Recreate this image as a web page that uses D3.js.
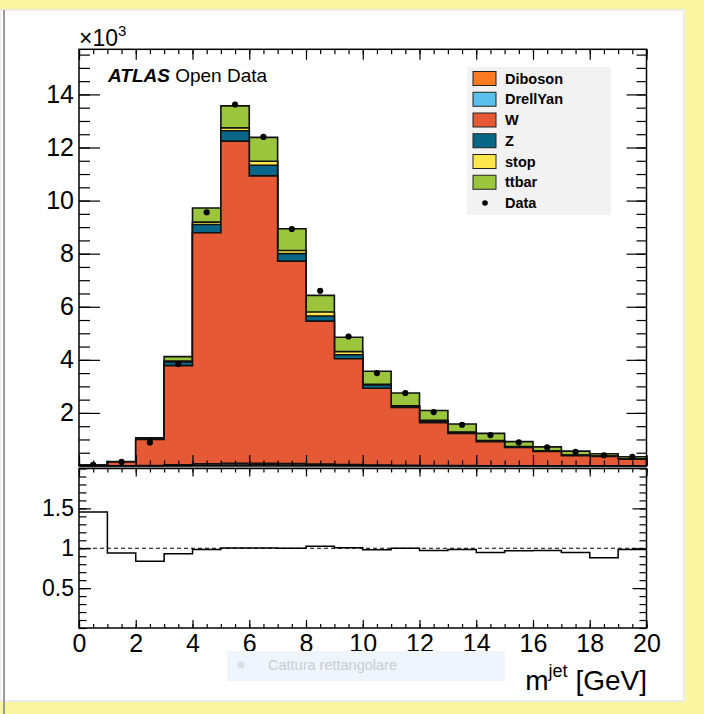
<!DOCTYPE html>
<html>
<head>
<meta charset="utf-8">
<script src="https://cdn.jsdelivr.net/npm/d3@7"></script>
<style>
  html, body { margin: 0; padding: 0; background: #faf6a0; }
  svg { display: block; }
  text { font-family: "Liberation Sans", Arial, Helvetica, sans-serif; }
</style>
</head>
<body>
<svg id="chart" width="704" height="714"></svg>
<script>
// bins of m_jet, 1 GeV wide, 0..20
const binLow = [0, 1, 2, 3, 4, 5, 6, 7, 8, 9, 10, 11, 12, 13, 14, 15, 16, 17, 18, 19];
const binWidth = 1;

// MC samples, stacked bottom -> top (same order as legend)
const samples = ['Diboson', 'DrellYan', 'W', 'Z', 'stop', 'ttbar'];
const sampleColors = ['#fa7921', '#5bc0eb', '#e55934', '#086788', '#fde74c', '#9bc53d'];

const diboson  = [0, 1, 5, 15, 30, 40, 45, 40, 30, 20, 15, 10, 8, 6, 4, 3, 2, 2, 1, 1];
const drellyan = [2, 3, 10, 30, 50, 60, 60, 50, 40, 30, 20, 15, 10, 8, 6, 4, 3, 2, 2, 1];
const wjets    = [25, 150, 985, 3735, 8710, 12140, 10825, 7630, 5390, 3990, 2895, 2185, 1612, 1216, 910, 693, 545, 386, 357, 250];
const zjets    = [3, 5, 30, 140, 310, 390, 400, 280, 190, 150, 120, 40, 50, 30, 20, 15, 10, 10, 8, 6];
const stop     = [1, 2, 10, 30, 90, 110, 150, 120, 150, 120, 30, 20, 40, 20, 20, 15, 10, 10, 7, 6];
const ttbar    = [2, 4, 25, 170, 530, 830, 900, 820, 630, 540, 490, 480, 370, 300, 270, 190, 150, 150, 85, 86];

const dataCounts = [48, 155, 890, 3840, 9560, 13620, 12400, 8930, 6600, 4880, 3500, 2750, 2030, 1555, 1165, 890, 700, 530, 405, 345];

// tick labels
const xTickLabels = [0, 2, 4, 6, 8, 10, 12, 14, 16, 18, 20];
const yTickLabels = [2, 4, 6, 8, 10, 12, 14];       // x10^3
const ratioTickLabels = [0.5, 1, 1.5];

const svg = d3.select('#chart');
const width = 704, height = 714;

// screenshot background
svg.append('rect').attr('width', width).attr('height', height).attr('fill', '#faf6a0');
svg.append('rect')
  .attr('x', 0).attr('y', 10).attr('width', 684).attr('height', 691)
  .attr('fill', '#fff').attr('stroke', '#ececec').attr('stroke-width', 2);
svg.append('line')
  .attr('x1', 4).attr('x2', 4).attr('y1', 10).attr('y2', height)
  .attr('stroke', '#9c9c9c').attr('stroke-width', 2);

// pads
const frame = { left: 79, right: 646.5, top: 49.3, bottom: 466 };
const rframe = { top: 468.5, bottom: 628 };

const x = d3.scaleLinear().domain([0, 20]).range([frame.left, frame.right]);
const y = d3.scaleLinear().domain([0, 15700]).range([frame.bottom, frame.top]);
const yr = d3.scaleLinear().domain([0, 2]).range([rframe.bottom, rframe.top]);

// stack
const table = binLow.map((b, i) => ({
  bin: b,
  Diboson: diboson[i], DrellYan: drellyan[i], W: wjets[i],
  Z: zjets[i], stop: stop[i], ttbar: ttbar[i]
}));
const stacked = d3.stack().keys(samples)(table);
const mcTotal = stacked[stacked.length - 1].map(d => d[1]);

const lastEdge = binLow[binLow.length - 1] + binWidth;
const stepPts = vals => [[binLow[0], 0], ...vals.map((v, i) => [binLow[i], v]), [lastEdge, vals[vals.length - 1]], [lastEdge, 0]];

const area = d3.area().x(d => x(d[0])).y0(y(0)).y1(d => y(d[1])).curve(d3.curveStepAfter);
const line = d3.line().x(d => x(d[0])).y(d => y(d[1])).curve(d3.curveStepAfter);

const hist = svg.append('g');
// like ROOT: draw the largest cumulative first, then the smaller ones over it
stacked.slice().reverse().forEach(layer => {
  const pts = stepPts(layer.map(d => d[1]));
  const col = sampleColors[samples.indexOf(layer.key)];
  hist.append('path').attr('d', area(pts)).attr('fill', col);
  hist.append('path').attr('d', line(pts))
    .attr('fill', 'none').attr('stroke', '#111').attr('stroke-width', 1.6);
});

// axis helper
function styleAxis(g, size) {
  g.select('.domain').remove();
  g.selectAll('.tick line').attr('stroke', '#000').attr('stroke-width', 1.2);
  g.selectAll('.tick text').attr('fill', '#000').attr('font-size', size)
    .attr('font-family', '"Liberation Sans", Arial, sans-serif');
}

const xMinor = d3.range(0, 20.01, 0.5);
const yMinor = d3.range(0, 15700, 500);
const rMinor = d3.range(0, 2.001, 0.1);

// upper pad axes
svg.append('g').attr('transform', `translate(${frame.left},0)`)
  .call(d3.axisLeft(y).tickValues(yMinor).tickSize(-11).tickFormat(''))
  .call(g => styleAxis(g, 0));
svg.append('g').attr('transform', `translate(${frame.left},0)`)
  .call(d3.axisLeft(y).tickValues(yTickLabels.map(v => v * 1000)).tickSize(-21).tickPadding(5).tickFormat(d => d / 1000))
  .call(g => styleAxis(g, 25));
svg.append('g').attr('transform', `translate(${frame.right},0)`)
  .call(d3.axisRight(y).tickValues(yMinor).tickSize(-10).tickFormat(''))
  .call(g => styleAxis(g, 0));
svg.append('g').attr('transform', `translate(${frame.right},0)`)
  .call(d3.axisRight(y).tickValues(yTickLabels.map(v => v * 1000)).tickSize(-20).tickFormat(''))
  .call(g => styleAxis(g, 0));
svg.append('g').attr('transform', `translate(0,${frame.top})`)
  .call(d3.axisTop(x).tickValues(xMinor).tickSize(-5).tickFormat(''))
  .call(g => styleAxis(g, 0));
svg.append('g').attr('transform', `translate(0,${frame.top})`)
  .call(d3.axisTop(x).tickValues(xTickLabels).tickSize(-10.5).tickFormat(''))
  .call(g => styleAxis(g, 0));
svg.append('g').attr('transform', `translate(0,${frame.bottom})`)
  .call(d3.axisBottom(x).tickValues(xMinor).tickSize(-5.5).tickFormat(''))
  .call(g => styleAxis(g, 0));
svg.append('g').attr('transform', `translate(0,${frame.bottom})`)
  .call(d3.axisBottom(x).tickValues(xTickLabels).tickSize(-11).tickFormat(''))
  .call(g => styleAxis(g, 0));

svg.append('rect')
  .attr('x', frame.left).attr('y', frame.top)
  .attr('width', frame.right - frame.left).attr('height', frame.bottom - frame.top)
  .attr('fill', 'none').attr('stroke', '#000').attr('stroke-width', 1.5);

// data points
svg.append('g').selectAll('circle')
  .data(dataCounts)
  .join('circle')
  .attr('cx', (d, i) => x(binLow[i] + binWidth / 2))
  .attr('cy', d => y(d))
  .attr('r', 3.1)
  .attr('fill', '#000');

// separator between pads
svg.append('line')
  .attr('x1', frame.left).attr('x2', frame.right)
  .attr('y1', 467.4).attr('y2', 467.4)
  .attr('stroke', '#aaa').attr('stroke-width', 1);

// ratio pad
const ratio = dataCounts.map((d, i) => d / mcTotal[i]);
const ratioPts = [...ratio.map((r, i) => [binLow[i], r]), [lastEdge, ratio[ratio.length - 1]]];

svg.append('line')
  .attr('x1', x(0)).attr('x2', x(20))
  .attr('y1', yr(1)).attr('y2', yr(1))
  .attr('stroke', '#000').attr('stroke-width', 1).attr('stroke-dasharray', '4,3');

svg.append('path')
  .attr('d', d3.line().x(d => x(d[0])).y(d => yr(d[1])).curve(d3.curveStepAfter)(ratioPts))
  .attr('fill', 'none').attr('stroke', '#000').attr('stroke-width', 1.5);

svg.append('g').attr('transform', `translate(${frame.left},0)`)
  .call(d3.axisLeft(yr).tickValues(rMinor).tickSize(-7.5).tickFormat(''))
  .call(g => styleAxis(g, 0));
svg.append('g').attr('transform', `translate(${frame.left},0)`)
  .call(d3.axisLeft(yr).tickValues(ratioTickLabels).tickSize(-12).tickPadding(5).tickFormat(d => d))
  .call(g => styleAxis(g, 23));
svg.append('g').attr('transform', `translate(${frame.right},0)`)
  .call(d3.axisRight(yr).tickValues(rMinor).tickSize(-7).tickFormat(''))
  .call(g => styleAxis(g, 0));
svg.append('g').attr('transform', `translate(${frame.right},0)`)
  .call(d3.axisRight(yr).tickValues(ratioTickLabels).tickSize(-14).tickFormat(''))
  .call(g => styleAxis(g, 0));
svg.append('g').attr('transform', `translate(0,${rframe.top})`)
  .call(d3.axisTop(x).tickValues(xMinor).tickSize(-4).tickFormat(''))
  .call(g => styleAxis(g, 0));
svg.append('g').attr('transform', `translate(0,${rframe.top})`)
  .call(d3.axisTop(x).tickValues(xTickLabels).tickSize(-8).tickFormat(''))
  .call(g => styleAxis(g, 0));
svg.append('g').attr('transform', `translate(0,${rframe.bottom})`)
  .call(d3.axisBottom(x).tickValues(xMinor).tickSize(-4).tickFormat(''))
  .call(g => styleAxis(g, 0));
svg.append('g').attr('transform', `translate(0,${rframe.bottom})`)
  .call(d3.axisBottom(x).tickValues(xTickLabels).tickSize(-8).tickPadding(6).tickFormat(d => d))
  .call(g => styleAxis(g, 25));

svg.append('rect')
  .attr('x', frame.left).attr('y', rframe.top)
  .attr('width', frame.right - frame.left).attr('height', rframe.bottom - rframe.top)
  .attr('fill', 'none').attr('stroke', '#000').attr('stroke-width', 1.5);

// x10^3 multiplier
const mult = svg.append('text').attr('x', 79).attr('y', 46).attr('font-size', 23).attr('fill', '#000');
mult.append('tspan').text('\u00d710');
mult.append('tspan').attr('dy', -10).attr('font-size', 15).text('3');

// ATLAS label
const atlas = svg.append('text').attr('x', 108).attr('y', 82).attr('font-size', 19).attr('fill', '#000');
atlas.append('tspan').attr('font-weight', 'bold').attr('font-style', 'italic').text('ATLAS');
atlas.append('tspan').text(' Open Data');

// legend
const legend = svg.append('g');
legend.append('rect')
  .attr('x', 467).attr('y', 67).attr('width', 144).attr('height', 148)
  .attr('fill', '#f2f2f2');
const legendItems = samples.map((s, i) => ({ name: s, color: sampleColors[i] }))
  .concat([{ name: 'Data', color: null }]);
const li = legend.selectAll('g.item').data(legendItems).join('g')
  .attr('transform', (d, i) => `translate(0,${78.5 + i * 20.75})`);
li.filter(d => d.color)
  .append('rect')
  .attr('x', 473).attr('y', -7).attr('width', 23).attr('height', 14)
  .attr('fill', d => d.color).attr('stroke', '#222').attr('stroke-width', 1);
li.filter(d => !d.color)
  .append('circle').attr('cx', 485).attr('cy', 0).attr('r', 2.8).attr('fill', '#000');
li.append('text')
  .attr('x', 505).attr('y', 5)
  .attr('font-size', 14.5).attr('font-weight', 'bold').attr('fill', '#000')
  .text(d => d.name);

// x axis title
const xt = svg.append('text').attr('x', 647).attr('y', 690)
  .attr('text-anchor', 'end').attr('font-size', 28).attr('fill', '#000');
xt.append('tspan').text('m');
xt.append('tspan').attr('dy', -13).attr('font-size', 18).text('jet');
xt.append('tspan').attr('dy', 13).text(' [GeV]');

// screen-capture tooltip left in the screenshot
const cap = svg.append('g');
cap.append('rect').attr('x', 227).attr('y', 651).attr('width', 278).attr('height', 30).attr('fill', '#eef5fc');
cap.append('circle').attr('cx', 241).attr('cy', 665).attr('r', 3.5).attr('fill', '#d9dee3');
cap.append('text').attr('x', 268).attr('y', 670)
  .attr('font-family', '"Open Sans", "Noto Sans", sans-serif')
  .attr('font-size', 14.5).attr('fill', '#c8cdd2')
  .text('Cattura rettangolare');
</script>
</body>
</html>
